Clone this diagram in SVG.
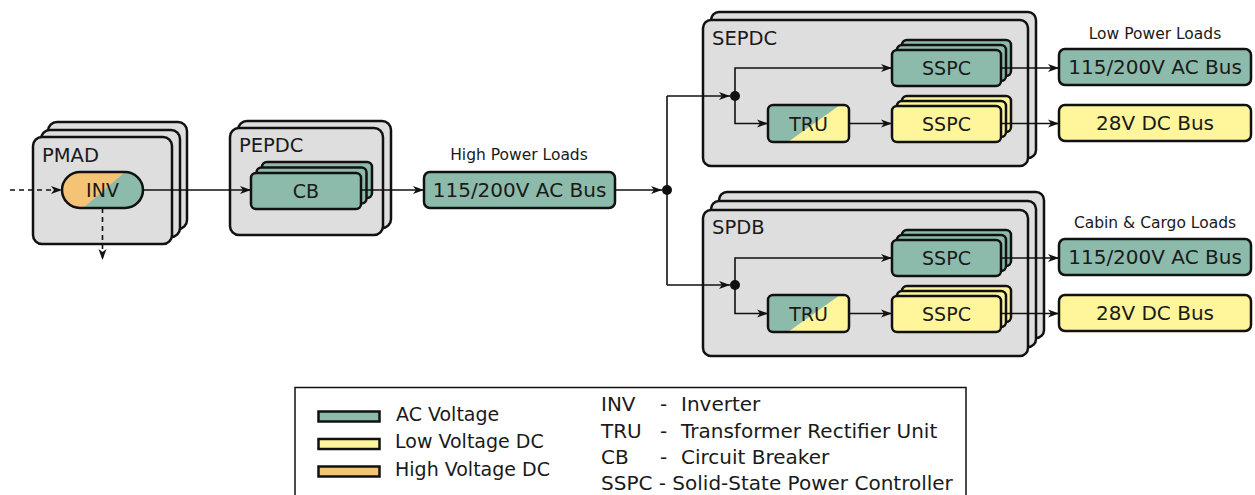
<svg xmlns="http://www.w3.org/2000/svg" width="1255" height="495" viewBox="0 0 1255 495">
<style>
text{font-family:"DejaVu Sans","Verdana",sans-serif;fill:#1a1a1a}
.cont{fill:#dedede;stroke:#111;stroke-width:2.5}
.ac{fill:#8dbbab;stroke:#111;stroke-width:2.5}
.dc{fill:#fff59b;stroke:#111;stroke-width:2.5}
.hv{fill:#f5c375}
.tl{fill:#8dbbab}
.yl{fill:#fff59b}
.ol{fill:none;stroke:#111;stroke-width:2.5}
.lbl{font-size:19.5px}
.nd{font-size:19px;text-anchor:middle}
.bus{font-size:20px;text-anchor:middle}
.cap{font-size:15.5px;text-anchor:middle}
.lg{font-size:19px}
.lg2{font-size:20px}
.cn{fill:none;stroke:#111;stroke-width:1.6}
.arr{marker-end:url(#ah)}
.dash{stroke-dasharray:5 4}
.dot{fill:#111}
</style>
<defs>
<marker id="ah" markerWidth="12" markerHeight="10" refX="11" refY="5" orient="auto" markerUnits="userSpaceOnUse">
<path d="M0,1 L11,5 L0,9 L3,5 z" fill="#111"/>
</marker>
<clipPath id="invClip"><rect x="62" y="172" width="81" height="36" rx="18"/></clipPath>
<clipPath id="truClip1"><rect x="768" y="105" width="81" height="37" rx="5"/></clipPath>
<clipPath id="truClip2"><rect x="768" y="295" width="81" height="37" rx="5"/></clipPath>
</defs>

<g id="PMAD">
<rect class="cont" x="48" y="122" width="139" height="107" rx="9"/>
<rect class="cont" x="41" y="130" width="139" height="107" rx="9"/>
<rect class="cont" x="33" y="137" width="139" height="107" rx="9"/>
<text class="lbl" x="42" y="162">PMAD</text>
</g>
<g id="INV">
<g clip-path="url(#invClip)">
<rect class="hv" x="62" y="172" width="81" height="36"/>
<polygon class="tl" points="125,172 145,172 145,208 83,208"/>
</g>
<rect class="ol" x="62" y="172" width="81" height="36" rx="18"/>
<text class="nd" x="102.5" y="197">INV</text>
</g>

<g id="PEPDC">
<rect class="cont" x="238" y="121" width="153" height="107" rx="9"/>
<rect class="cont" x="230" y="128" width="153" height="107" rx="9"/>
<text class="lbl" x="239" y="152">PEPDC</text>
</g>
<g id="CB">
<rect class="ac" x="262" y="162" width="110" height="36" rx="5"/>
<rect class="ac" x="256.5" y="167.5" width="110" height="36" rx="5"/>
<rect class="ac" x="251" y="173" width="110" height="36" rx="5"/>
<text class="nd" x="306" y="198">CB</text>
</g>

<g id="HighPowerBus">
<text class="cap" x="519" y="160">High Power Loads</text>
<rect class="ac" x="424" y="172" width="191" height="36" rx="6"/>
<text class="bus" x="519.5" y="197">115/200V AC Bus</text>
</g>

<g id="SEPDC">
<rect class="cont" x="711" y="12" width="325" height="146" rx="8"/>
<rect class="cont" x="703" y="20" width="325" height="146" rx="8"/>
<text class="lbl" x="712" y="45">SEPDC</text>
</g>
<g id="SEPDC_SSPC_AC">
<rect class="ac" x="902" y="40" width="109" height="36" rx="5"/>
<rect class="ac" x="897" y="45" width="109" height="36" rx="5"/>
<rect class="ac" x="892" y="50" width="109" height="36" rx="5"/>
<text class="nd" x="946.5" y="75">SSPC</text>
</g>
<g id="SEPDC_TRU">
<g clip-path="url(#truClip1)">
<rect class="tl" x="768" y="105" width="81" height="37"/>
<polygon class="yl" points="840,105 851,105 851,142 788,142"/>
</g>
<rect class="ol" x="768" y="105" width="81" height="37" rx="5"/>
<text class="nd" x="808.5" y="130.5">TRU</text>
</g>
<g id="SEPDC_SSPC_DC">
<rect class="dc" x="902" y="96" width="109" height="36" rx="5"/>
<rect class="dc" x="897" y="101" width="109" height="36" rx="5"/>
<rect class="dc" x="892" y="106" width="109" height="36" rx="5"/>
<text class="nd" x="946.5" y="131">SSPC</text>
</g>

<g id="SPDB">
<rect class="cont" x="719" y="192" width="325" height="146" rx="8"/>
<rect class="cont" x="711" y="201" width="325" height="146" rx="8"/>
<rect class="cont" x="703" y="210" width="325" height="146" rx="8"/>
<text class="lbl" x="712" y="234">SPDB</text>
</g>
<g id="SPDB_SSPC_AC">
<rect class="ac" x="902" y="230" width="109" height="36" rx="5"/>
<rect class="ac" x="897" y="235" width="109" height="36" rx="5"/>
<rect class="ac" x="892" y="240" width="109" height="36" rx="5"/>
<text class="nd" x="946.5" y="265">SSPC</text>
</g>
<g id="SPDB_TRU">
<g clip-path="url(#truClip2)">
<rect class="tl" x="768" y="295" width="81" height="37"/>
<polygon class="yl" points="840,295 851,295 851,332 788,332"/>
</g>
<rect class="ol" x="768" y="295" width="81" height="37" rx="5"/>
<text class="nd" x="808.5" y="320.5">TRU</text>
</g>
<g id="SPDB_SSPC_DC">
<rect class="dc" x="902" y="286" width="109" height="36" rx="5"/>
<rect class="dc" x="897" y="291" width="109" height="36" rx="5"/>
<rect class="dc" x="892" y="296" width="109" height="36" rx="5"/>
<text class="nd" x="946.5" y="321">SSPC</text>
</g>

<g id="LowPowerLoads">
<text class="cap" x="1155" y="39">Low Power Loads</text>
<rect class="ac" x="1059" y="49" width="192" height="36" rx="6"/>
<text class="bus" x="1155" y="74">115/200V AC Bus</text>
<rect class="dc" x="1059" y="105" width="192" height="36" rx="6"/>
<text class="bus" x="1155" y="130">28V DC Bus</text>
</g>
<g id="CabinCargoLoads">
<text class="cap" x="1155" y="228">Cabin &amp; Cargo Loads</text>
<rect class="ac" x="1059" y="239" width="192" height="36" rx="6"/>
<text class="bus" x="1155" y="264">115/200V AC Bus</text>
<rect class="dc" x="1059" y="295" width="192" height="36" rx="6"/>
<text class="bus" x="1155" y="320">28V DC Bus</text>
</g>

<g id="connectors">
<path class="cn arr dash" d="M10,190 H62"/>
<path class="cn arr dash" d="M102.5,208 V260"/>
<path class="cn arr" d="M143,190 H251"/>
<path class="cn arr" d="M361,190 H424"/>
<path class="cn arr" d="M615,190 H662"/>
<circle class="dot" cx="667" cy="190" r="5"/>
<path class="cn" d="M667,190 V96"/>
<path class="cn" d="M667,190 V285"/>
<path class="cn arr" d="M667,96 H730"/>
<path class="cn arr" d="M667,285 H730"/>
<circle class="dot" cx="735" cy="96" r="5"/>
<circle class="dot" cx="735" cy="285" r="5"/>
<path class="cn arr" d="M735,96 V68 H892"/>
<path class="cn arr" d="M735,96 V123.5 H768"/>
<path class="cn arr" d="M849,123.5 H892"/>
<path class="cn arr" d="M735,285 V258 H892"/>
<path class="cn arr" d="M735,285 V313.5 H768"/>
<path class="cn arr" d="M849,313.5 H892"/>
<path class="cn arr" d="M1001,68 H1059"/>
<path class="cn arr" d="M1001,123.5 H1059"/>
<path class="cn arr" d="M1001,258 H1059"/>
<path class="cn arr" d="M1001,313.5 H1059"/>
</g>

<g id="legend">
<rect x="295" y="387.5" width="671" height="130" fill="#fff" stroke="#111" stroke-width="1.5"/>
<rect class="ac" x="318.5" y="411.5" width="61" height="10"/>
<rect class="dc" x="318.5" y="439" width="61" height="10"/>
<rect x="318.5" y="466.5" width="61" height="10" fill="#f5c375" stroke="#111" stroke-width="2.5"/>
<text class="lg" x="396" y="421">AC Voltage</text>
<text class="lg" x="395" y="448">Low Voltage DC</text>
<text class="lg" x="395" y="476">High Voltage DC</text>
<text class="lg2" x="601" y="411">INV</text>
<text class="lg2" x="660" y="411">-</text>
<text class="lg2" x="681" y="411">Inverter</text>
<text class="lg2" x="601" y="438">TRU</text>
<text class="lg2" x="660" y="438">-</text>
<text class="lg2" x="681" y="438">Transformer Rectifier Unit</text>
<text class="lg2" x="601" y="464">CB</text>
<text class="lg2" x="660" y="464">-</text>
<text class="lg2" x="681" y="464">Circuit Breaker</text>
<text class="lg2" x="601" y="490">SSPC - Solid-State Power Controller</text>
</g>
</svg>
